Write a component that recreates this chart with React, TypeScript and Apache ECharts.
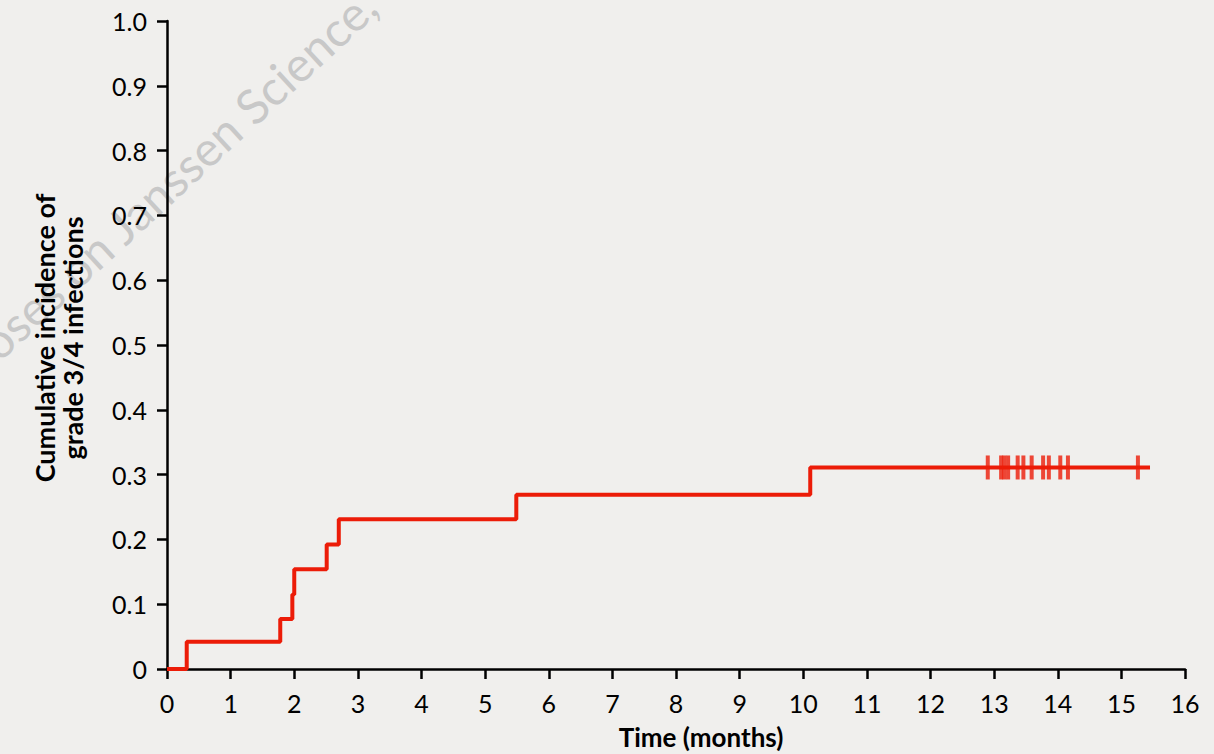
import React, { useEffect, useRef } from "react";
import * as echarts from "echarts";

const stepTimes = [0, 0.31, 1.78, 1.97, 2.0, 2.51, 2.7, 5.49, 10.11, 15.45];
const stepValues = [0, 0.042, 0.077, 0.115, 0.154, 0.192, 0.231, 0.269, 0.311, 0.311];
const censorTimes = [12.9, 13.11, 13.16, 13.22, 13.37, 13.46, 13.59, 13.77, 13.86, 14.04, 14.16, 15.26];
const censorValue = 0.311;
const xTitle = "Time (months)";
const yTitleLines = ["Cumulative incidence of", "grade 3/4 infections"];
const watermark = "for scientific purposes on Janssen Science,";

const RED = "#ec1c08";
const FONT = "Lato, 'Open Sans', sans-serif";

export default function App() {
  const ref = useRef<HTMLDivElement>(null);
  useEffect(() => {
    document.body.style.margin = "0";
    document.body.style.background = "#f0efed";
    const chart = echarts.init(ref.current!, null, { renderer: "svg" });
    chart.setOption({
      animation: false,
      backgroundColor: "#f0efed",
      grid: { left: 167, right: 29, top: 21, bottom: 85 },
      xAxis: {
        type: "value",
        min: 0,
        max: 16,
        interval: 1,
        splitLine: { show: false },
        axisLine: { onZero: false, lineStyle: { color: "#000", width: 2.5 } },
        axisTick: { length: 10, lineStyle: { color: "#000", width: 2.5 } },
        axisLabel: { color: "#000", fontSize: 25, fontFamily: FONT, margin: 21 },
      },
      yAxis: {
        type: "value",
        min: 0,
        max: 1,
        interval: 0.1,
        splitLine: { show: false },
        axisLine: { show: true, lineStyle: { color: "#000", width: 2.5 } },
        axisTick: { show: true, length: 10, lineStyle: { color: "#000", width: 2.5 } },
        axisLabel: {
          color: "#000",
          fontSize: 25,
          fontFamily: FONT,
          margin: 20,
          formatter: (v: number) => (v === 0 ? "0" : v.toFixed(1)),
        },
      },
      series: [
        {
          type: "line",
          step: "end",
          data: stepTimes.map((t, i) => [t, stepValues[i]]),
          symbol: "none",
          lineStyle: { color: RED, width: 4 },
          z: 3,
        },
        {
          type: "scatter",
          data: censorTimes.map((t) => [t, censorValue]),
          symbol: "rect",
          symbolSize: [4, 24],
          itemStyle: { color: RED },
          z: 4,
        },
      ],
      graphic: [
        {
          type: "text",
          x: 368,
          y: -2,
          rotation: 0.745,
          z: 0,
          style: {
            text: watermark,
            fill: "#c8c8c8",
            font: `48px ${FONT}`,
            textAlign: "right",
            textVerticalAlign: "middle",
          },
        },
        {
          type: "text",
          x: 58,
          y: 338,
          rotation: Math.PI / 2,
          style: {
            text: yTitleLines.join("\n"),
            fill: "#000",
            font: `bold 27px ${FONT}`,
            lineHeight: 28,
            textAlign: "center",
            textVerticalAlign: "middle",
          },
        },
        {
          type: "text",
          x: 701,
          y: 737,
          style: {
            text: xTitle,
            fill: "#000",
            font: `bold 26px ${FONT}`,
            textAlign: "center",
            textVerticalAlign: "middle",
          },
        },
      ],
    });
    return () => chart.dispose();
  }, []);
  return <div ref={ref} style={{ width: 1214, height: 754 }} />;
}
